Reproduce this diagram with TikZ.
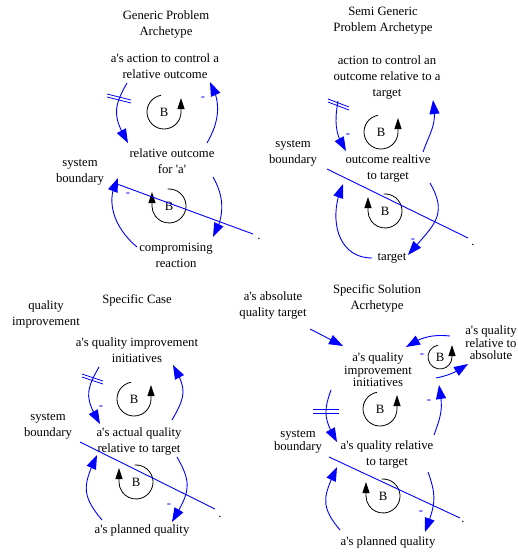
\documentclass[tikz,border=0pt]{standalone}
\usetikzlibrary{arrows.meta,bending}
\font\tf="Liberation Serif" at 12.7pt
\definecolor{lnk}{RGB}{0,0,255}
\begin{document}
\begin{tikzpicture}[x=1pt,y=1pt,
  txt/.style={font=\fontsize{12.7}{16}\selectfont\tf, align=center, inner sep=0pt},
  tight/.style={font=\fontsize{12.7}{12.5}\selectfont\tf, align=center, inner sep=0pt},
  link/.style={draw=lnk, line width=0.9pt, -{Triangle[length=14pt,width=10pt,flex]}},
  delay/.style={draw=lnk, line width=0.8pt},
  pol/.style={text=lnk, font=\tf, inner sep=0pt},
  loopc/.style={draw=black, line width=0.8pt, -{Triangle[length=11pt,width=7pt]}},
  bnd/.style={draw=lnk, line width=0.9pt},
]
\useasboundingbox (0,0) rectangle (518,-552);

% ---------------- Panel 1 ----------------
\node[txt] (t1) at (166,-24) {Generic Problem\\Archetype};
\node[txt] (a1) at (165,-66) {a's action to control a\\relative outcome};
\node[txt] (r1) at (172,-161) {relative outcome\\for 'a'};
\node[txt] (sb1) at (80,-172) {system\\boundary};
\node[txt] (c1) at (176,-255) {compromising\\reaction};
\node[txt] (lb1) at (164,-112) {B};
\node[txt] (lb1b) at (169,-206) {B};
\node[txt] (d1) at (259,-239) {.};
\draw[loopc] ([shift={(100:17pt)}]lb1.center) arc[start angle=100,end angle=360,radius=17pt] -- ++(0,14);
\draw[loopc] ([shift={(95:17pt)}]lb1b.center) arc[start angle=95,end angle=-180,radius=17pt] -- ++(0,14);
\draw[link] ([shift={(-38,-17)}]a1.center) to[out=240,in=120,looseness=1.25] ([shift={(-44,18)}]r1.center);
\draw[link] ([shift={(35,18)}]r1.center) to[out=60,in=300] ([shift={(45,-16)}]a1.center);
\draw[link] ([shift={(-39,8)}]c1.center) to[out=140,in=240] ([shift={(-54,-17)}]r1.center);
\draw[link] ([shift={(41,-16)}]r1.center) to[out=300,in=60] ([shift={(37,18)}]c1.center);
\node[pol] (p1a) at (203,-99) {-};
\node[pol] (p1b) at (128,-195) {-};
\draw[delay] (107,-94) -- (131,-100);
\draw[delay] (107,-97) -- (131,-103);
\coordinate (bs1) at (117,-184);
\draw[bnd] (bs1) -- ([shift={(-6,5)}]d1.center);

% ---------------- Panel 2 ----------------
\node[txt] (t2) at (383,-21) {Semi Generic\\Problem Archetype};
\node[txt] (a2) at (387,-77) {action to control an\\outcome relative to a\\target};
\node[txt] (o2) at (388,-168) {outcome realtive\\to target};
\node[txt] (sb2) at (293,-153) {system\\boundary};
\node[txt] (tg2) at (392,-258) {target};
\node[txt] (lb2) at (381,-132) {B};
\node[txt] (lb2b) at (385,-211) {B};
\node[txt] (d2) at (473,-245) {.};
\draw[loopc] ([shift={(100:17pt)}]lb2.center) arc[start angle=100,end angle=360,radius=17pt] -- ++(0,14);
\draw[loopc] ([shift={(95:17pt)}]lb2b.center) arc[start angle=95,end angle=-180,radius=17pt] -- ++(0,14);
\draw[link] ([shift={(-49,-24)}]a2.center) to[out=260,in=125] ([shift={(-42,17)}]o2.center);
\draw[link] ([shift={(35,16)}]o2.center) to[out=70,in=280,looseness=1.2] ([shift={(46,-23)}]a2.center);
\draw[link] ([shift={(-20,0)}]tg2.center) to[out=180,in=245,looseness=1.15] ([shift={(-45,-16)}]o2.center);
\draw[link] ([shift={(42,-15)}]o2.center) to[out=-60,in=50,looseness=1.3] ([shift={(16,3)}]tg2.center);
\node[pol] (p2a) at (348,-136) {-};
\node[pol] (p2b) at (413,-241) {-};
\draw[delay] (328,-99) -- (349,-107);
\draw[delay] (328,-102) -- (349,-110);
\coordinate (bs2) at (327,-169);
\draw[bnd] (bs2) -- ([shift={(-5,7)}]d2.center);

% ---------------- Panel 3 ----------------
\node[txt] (qi3) at (46,-314) {quality\\improvement};
\node[txt] (t3) at (137,-300) {Specific Case};
\node[txt] (a3) at (137,-350) {a's quality improvement\\initiatives};
\node[txt] (q3) at (139,-441) {a's actual quality\\relative to target};
\node[txt] (sb3) at (48,-426) {system\\boundary};
\node[txt] (pq3) at (142,-530) {a's planned quality};
\node[txt] (lb3) at (134,-399) {B};
\node[txt] (lb3b) at (136,-482) {B};
\node[txt] (d3) at (220,-517) {.};
\draw[loopc] ([shift={(100:17pt)}]lb3.center) arc[start angle=100,end angle=360,radius=17pt] -- ++(0,14);
\draw[loopc] ([shift={(95:17pt)}]lb3b.center) arc[start angle=95,end angle=-180,radius=17pt] -- ++(0,14);
\draw[link] ([shift={(-38,-17)}]a3.center) to[out=240,in=120,looseness=1.3] ([shift={(-39,17)}]q3.center);
\draw[link] ([shift={(33,21)}]q3.center) to[out=60,in=300,looseness=1.3] ([shift={(36,-15)}]a3.center);
\draw[link] ([shift={(-40,10)}]pq3.center) to[out=130,in=245,looseness=1.3] ([shift={(-42,-14)}]q3.center);
\draw[link] ([shift={(38,-16)}]q3.center) to[out=300,in=60,looseness=1.3] ([shift={(30,8)}]pq3.center);
\node[pol] (p3a) at (101,-408) {-};
\node[pol] (p3b) at (169,-506) {-};
\draw[delay] (82,-374) -- (103,-381);
\draw[delay] (82,-377) -- (103,-384);
\coordinate (bs3) at (80,-442);
\draw[bnd] (bs3) -- ([shift={(-5,8)}]d3.center);

% ---------------- Panel 4 ----------------
\node[txt] (aq4) at (273,-305) {a's absolute\\quality target};
\node[txt] (t4) at (377,-298) {Specific Solution\\Acrhetype};
\node[tight] (i4) at (378,-370) {a's quality\\improvement\\initiatives};
\node[tight] (ra4) at (491,-343) {a's quality\\relative to\\absolute};
\node[tight] (sb4) at (298,-442) {system\\boundary};
\node[txt] (q4) at (387,-454) {a's quality relative\\to target};
\node[txt] (pq4) at (388,-542) {a's planned quality};
\node[txt] (lb4s) at (440,-357) {B};
\node[txt] (lb4) at (380,-409) {B};
\node[txt] (lb4b) at (383,-496) {B};
\node[txt] (d4) at (463,-522) {.};
\draw[loopc] ([shift={(100:12pt)}]lb4s.center) arc[start angle=100,end angle=360,radius=12pt] -- ++(0,12);
\draw[loopc] ([shift={(100:17pt)}]lb4.center) arc[start angle=100,end angle=360,radius=17pt] -- ++(0,14);
\draw[loopc] ([shift={(95:17pt)}]lb4b.center) arc[start angle=95,end angle=-180,radius=17pt] -- ++(0,14);
\draw[link] ([shift={(37,-24)}]aq4.center) -- ([shift={(-35,24)}]i4.center);
\draw[link] ([shift={(-41,7)}]ra4.center) to[bend right=20] ([shift={(28,23)}]i4.center);
\draw[link] ([shift={(58,-8)}]i4.center) to[bend right=12] ([shift={(-23,-21)}]ra4.center);
\draw[link] ([shift={(-47,-20)}]i4.center) to[out=250,in=120,looseness=1.2] ([shift={(-50,12)}]q4.center);
\draw[link] ([shift={(47,19)}]q4.center) to[out=70,in=280,looseness=1.2] ([shift={(61,-15)}]i4.center);
\draw[link] ([shift={(-48,12)}]pq4.center) to[out=130,in=245,looseness=1.3] ([shift={(-50,-13)}]q4.center);
\draw[link] ([shift={(41,-18)}]q4.center) to[out=-70,in=70,looseness=1.2] ([shift={(37,10)}]pq4.center);
\node[pol] (p4s) at (422,-356) {-};
\node[pol] (p4a) at (429,-402) {-};
\node[pol] (p4b) at (421,-513) {-};
\draw[delay] (313,-409) -- (339,-409);
\draw[delay] (313,-413) -- (339,-413);
\coordinate (bs4) at (329,-457);
\draw[bnd] (bs4) -- ([shift={(-3,4)}]d4.center);
\end{tikzpicture}
\end{document}
